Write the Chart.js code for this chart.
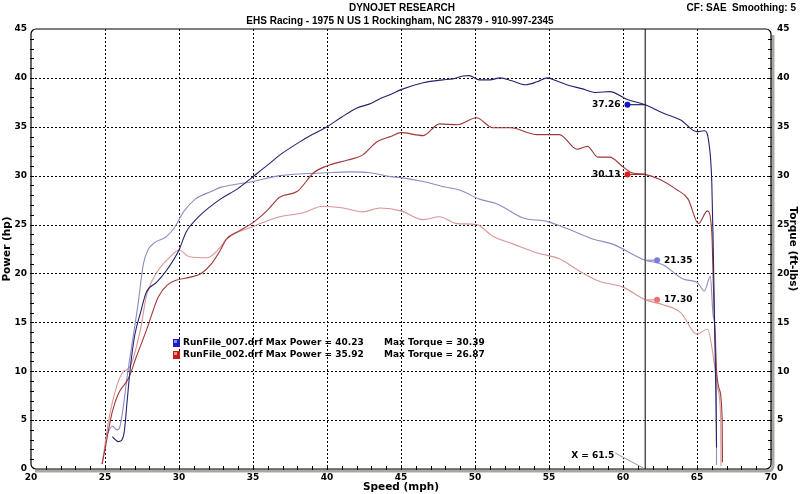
<!DOCTYPE html>
<html>
<head>
<meta charset="utf-8">
<script src="https://cdn.jsdelivr.net/npm/chart.js@4.4.0/dist/chart.umd.min.js"></script>
<style>
html, body { margin: 0; padding: 0; background: #fff; }
canvas { display: block; }
</style>
</head>
<body>
<canvas id="dyno" width="800" height="494"></canvas>
<script>
// RunFile_007 (blue) power, hp
const run007PowerSpeed = [25.5, 25.7, 25.9, 26.1, 26.3, 26.5, 26.7, 27.0, 27.4, 27.8, 28.5, 29.2, 30.0, 30.5, 31.2, 32.0, 32.8, 34.0, 35.0, 36.0, 36.8, 38.0, 39.0, 40.0, 41.0, 42.0, 43.0, 43.6, 44.3, 45.0, 46.5, 47.8, 48.5, 49.2, 49.6, 50.3, 51.0, 51.7, 52.5, 53.4, 54.2, 54.9, 55.5, 56.2, 57.2, 58.2, 59.1, 60.3, 61.5, 62.7, 63.9, 65.0, 65.5, 65.8, 66.0, 66.1, 66.2, 66.28, 66.32];
const run007Power = [3.3, 3.0, 2.8, 2.9, 3.8, 7.0, 10.2, 13.6, 16.0, 18.1, 19.1, 20.4, 22.4, 24.3, 25.6, 26.7, 27.6, 28.7, 29.9, 31.1, 32.1, 33.3, 34.2, 35.0, 36.0, 36.9, 37.4, 37.9, 38.3, 38.8, 39.5, 39.8, 39.9, 40.2, 40.23, 39.8, 39.8, 40.0, 39.7, 39.3, 39.6, 40.0, 39.7, 39.3, 38.9, 38.5, 38.6, 37.8, 37.26, 36.4, 35.7, 34.5, 34.6, 33.4, 29.3, 22.4, 14.0, 7.1, 2.2];

// RunFile_002 (red) power, hp
const run002PowerSpeed = [24.8, 25.0, 25.3, 25.5, 25.9, 26.6, 27.1, 27.8, 28.6, 29.2, 29.8, 30.7, 31.5, 32.2, 32.8, 33.2, 34.0, 35.0, 36.0, 36.8, 38.0, 39.1, 40.0, 41.4, 42.4, 43.4, 44.3, 45.0, 46.5, 47.6, 48.8, 50.1, 51.2, 52.4, 54.2, 55.7, 56.9, 57.6, 58.3, 59.1, 60.0, 60.6, 61.5, 62.5, 63.6, 64.4, 65.1, 65.7, 66.0, 66.1, 66.3, 66.5, 66.7, 66.72];
const run002Power = [0.5, 2.0, 4.5, 5.9, 7.7, 9.3, 11.4, 14.2, 17.6, 18.8, 19.3, 19.6, 20.0, 21.0, 22.4, 23.5, 24.3, 25.2, 26.5, 27.8, 28.4, 30.3, 31.0, 31.6, 32.1, 33.5, 34.0, 34.4, 34.1, 35.3, 35.2, 35.92, 34.9, 34.9, 34.2, 34.2, 32.7, 33.0, 31.9, 31.9, 30.9, 30.3, 30.13, 29.6, 28.6, 27.6, 25.1, 26.4, 24.2, 19.1, 10.5, 8.2, 5.1, 0.7];

// RunFile_007 (light blue) torque, ft-lbs
const run007TorqueSpeed = [25.1, 25.5, 25.8, 26.0, 26.2, 26.5, 26.8, 27.2, 27.6, 27.9, 28.4, 29.1, 29.7, 30.3, 31.1, 32.2, 32.8, 35.0, 36.8, 40.0, 41.5, 42.9, 44.3, 45.0, 46.5, 47.8, 49.0, 50.3, 51.5, 53.2, 54.9, 56.2, 58.0, 59.3, 61.5, 62.7, 64.1, 65.0, 65.5, 65.9, 66.1, 66.3, 66.32];
const run007Torque = [3.4, 4.4, 4.0, 4.3, 6.0, 9.5, 12.5, 16.5, 21.0, 22.4, 23.2, 23.7, 24.7, 26.3, 27.6, 28.4, 28.8, 29.4, 30.0, 30.3, 30.39, 30.3, 29.9, 29.8, 29.4, 28.9, 28.5, 27.6, 27.1, 25.7, 25.3, 24.6, 23.5, 23.0, 21.35, 20.9, 19.4, 19.1, 18.2, 19.7, 15.6, 10.5, 0.4];

// RunFile_002 (light red) torque, ft-lbs
const run002TorqueSpeed = [24.8, 25.0, 25.3, 25.8, 26.2, 26.7, 27.4, 27.8, 28.5, 29.4, 30.0, 30.7, 31.9, 32.8, 33.2, 35.0, 36.8, 38.4, 39.7, 41.1, 42.4, 43.6, 45.0, 46.5, 47.6, 48.8, 50.1, 51.2, 52.6, 54.2, 55.7, 57.1, 58.4, 60.0, 61.5, 62.7, 63.9, 65.0, 65.7, 66.2, 66.4, 66.6, 66.62];
const run002Torque = [0.5, 2.5, 5.4, 8.5, 9.9, 10.5, 14.3, 17.7, 20.1, 21.7, 22.4, 21.7, 21.6, 22.7, 23.5, 24.8, 25.8, 26.2, 26.87, 26.7, 26.3, 26.7, 26.4, 25.5, 25.8, 25.1, 25.0, 23.8, 23.0, 22.1, 21.5, 20.2, 19.2, 18.6, 17.30, 16.8, 16.0, 13.8, 14.3, 10.5, 8.2, 5.1, 0.3];

const runNames = ['RunFile_007.drf', 'RunFile_002.drf'];
const maxPower = [40.23, 35.92];
const maxTorque = [30.39, 26.87];
const cursorSpeed = 61.5;
const cursorPower = [37.26, 30.13];
const cursorTorque = [21.35, 17.30];
const powerDotSpeed = 60.3;
const torqueDotSpeed = 62.3;

const speedTicks = [20, 25, 30, 35, 40, 45, 50, 55, 60, 65, 70];
const valueTicks = [0, 5, 10, 15, 20, 25, 30, 35, 40, 45];

const colPower = ['#24246e', '#a03838'];
const colTorque = ['#8c8cc4', '#d89696'];
const colDotPower = ['#1414c8', '#e01c1c'];
const colDotTorque = ['#7c7ce0', '#f07070'];

const pts = (xs, ys) => xs.map((x, i) => ({ x, y: ys[i] }));

const curve = (data, color, axis) => ({
    type: 'line', data, borderColor: color, borderWidth: 1.1,
    pointRadius: 0, cubicInterpolationMode: 'monotone', yAxisID: axis
});

const datasets = [];
// read-out dots and leaders
for (let i = 0; i < 2; i++) {
    datasets.push({ type: 'scatter', data: [{ x: powerDotSpeed, y: cursorPower[i] }], pointRadius: 3, pointBackgroundColor: colDotPower[i], pointBorderWidth: 0, yAxisID: 'y' });
    datasets.push({ type: 'scatter', data: [{ x: torqueDotSpeed, y: cursorTorque[i] }], pointRadius: 3, pointBackgroundColor: colDotTorque[i], pointBorderWidth: 0, yAxisID: 'y2' });
    datasets.push({ type: 'line', data: [{ x: powerDotSpeed, y: cursorPower[i] }, { x: cursorSpeed, y: cursorPower[i] }], borderColor: colPower[i], borderWidth: 1.2, pointRadius: 0, yAxisID: 'y' });
    datasets.push({ type: 'line', data: [{ x: cursorSpeed, y: cursorTorque[i] }, { x: torqueDotSpeed, y: cursorTorque[i] }], borderColor: colTorque[i], borderWidth: 1.2, pointRadius: 0, yAxisID: 'y2' });
}
datasets.push({ type: 'line', data: [{ x: cursorSpeed, y: 0 }, { x: cursorSpeed, y: 45 }], borderColor: '#000', borderWidth: 1, pointRadius: 0, yAxisID: 'y' });
datasets.push(curve(pts(run007PowerSpeed, run007Power), colPower[0], 'y'));
datasets.push(curve(pts(run002PowerSpeed, run002Power), colPower[1], 'y'));
datasets.push(curve(pts(run007TorqueSpeed, run007Torque), colTorque[0], 'y2'));
datasets.push(curve(pts(run002TorqueSpeed, run002Torque), colTorque[1], 'y2'));

const BOLD = '"DejaVu Sans", Verdana, sans-serif';
const HEAD = '"Liberation Sans", Arial, sans-serif';

const dynoDecor = {
    id: 'dynoDecor',
    beforeDraw(chart) {
        const ctx = chart.ctx;
        ctx.save();
        ctx.fillStyle = '#fff';
        ctx.fillRect(0, 0, chart.width, chart.height);
        ctx.fillStyle = '#000';
        ctx.font = 'bold 10px ' + HEAD;
        ctx.textAlign = 'center';
        ctx.textBaseline = 'middle';
        ctx.fillText('DYNOJET RESEARCH', 402, 8);
        ctx.fillText('EHS Racing - 1975 N US 1 Rockingham, NC 28379 - 910-997-2345', 400, 21);
        ctx.textAlign = 'right';
        ctx.fillText('CF: SAE  Smoothing: 5', 796, 8);
        ctx.restore();
    },
    beforeDatasetsDraw(chart) {
        // dotted grid
        const { ctx, chartArea: a, scales } = chart;
        ctx.save();
        ctx.strokeStyle = '#000';
        ctx.lineWidth = 1;
        ctx.setLineDash([2, 2]);
        ctx.beginPath();
        speedTicks.slice(1, -1).forEach(v => {
            const px = Math.round(scales.x.getPixelForValue(v)) + 0.5;
            ctx.moveTo(px, a.top);
            ctx.lineTo(px, a.bottom);
        });
        valueTicks.slice(1, -1).forEach(v => {
            const py = Math.round(scales.y.getPixelForValue(v)) + 0.5;
            ctx.moveTo(a.left, py);
            ctx.lineTo(a.right, py);
        });
        ctx.stroke();
        ctx.restore();
    },
    afterDraw(chart) {
        const { ctx, chartArea: a, scales } = chart;
        const xs = scales.x, ys = scales.y, ys2 = scales.y2;
        ctx.save();
        // shadow
        ctx.strokeStyle = '#a8a8a0';
        ctx.lineWidth = 3;
        ctx.beginPath();
        ctx.moveTo(a.left + 4, a.bottom + 2);
        ctx.lineTo(a.right - 3, a.bottom + 2);
        ctx.quadraticCurveTo(a.right + 2, a.bottom + 2, a.right + 2, a.bottom - 4);
        ctx.lineTo(a.right + 2, a.top + 6);
        ctx.stroke();
        // frame
        ctx.strokeStyle = '#000';
        ctx.lineWidth = 1.2;
        ctx.beginPath();
        ctx.roundRect(a.left, a.top, a.right - a.left, a.bottom - a.top, 5);
        ctx.stroke();
        // minor ticks
        ctx.lineWidth = 1;
        ctx.beginPath();
        for (let v = 21; v < 70; v++) {
            const px = Math.round(xs.getPixelForValue(v)) + 0.5;
            ctx.moveTo(px, a.bottom - 3);
            ctx.lineTo(px, a.bottom + 1);
        }
        for (let v = 1; v < 45; v++) {
            const py = Math.round(ys.getPixelForValue(v)) + 0.5;
            ctx.moveTo(a.left - 1, py);
            ctx.lineTo(a.left + 3, py);
            ctx.moveTo(a.right - 3, py);
            ctx.lineTo(a.right + 1, py);
        }
        ctx.stroke();

        // read-out labels
        ctx.font = 'bold 9px ' + BOLD;
        ctx.textBaseline = 'middle';
        ctx.fillStyle = '#000';
        const pdx = xs.getPixelForValue(powerDotSpeed);
        const tdx = xs.getPixelForValue(torqueDotSpeed);
        for (let i = 0; i < 2; i++) {
            ctx.textAlign = 'right';
            ctx.fillText(cursorPower[i].toFixed(2), pdx - 7, ys.getPixelForValue(cursorPower[i]));
            ctx.textAlign = 'left';
            ctx.fillText(cursorTorque[i].toFixed(2), tdx + 7, ys2.getPixelForValue(cursorTorque[i]));
        }

        // cursor label
        const cx = xs.getPixelForValue(cursorSpeed);
        ctx.textAlign = 'right';
        ctx.fillText('X = ' + cursorSpeed.toFixed(1), cx - 31, a.bottom - 13);
        ctx.strokeStyle = '#999';
        ctx.beginPath();
        ctx.moveTo(cx - 30, a.bottom - 16);
        ctx.lineTo(cx - 2, a.bottom - 1);
        ctx.stroke();

        // legend
        const lx = 173, ly = [343, 355];
        const sq = [['#1c1cc0', '#8c8cf0'], ['#c81c1c', '#f08c8c']];
        for (let i = 0; i < 2; i++) {
            ctx.fillStyle = sq[i][0];
            ctx.fillRect(lx, ly[i] - 4, 7, 8);
            ctx.fillStyle = sq[i][1];
            ctx.fillRect(lx + 1, ly[i] - 3, 3, 3);
            ctx.fillStyle = '#000';
            ctx.textAlign = 'left';
            ctx.fillText(runNames[i] + ' Max Power = ' + maxPower[i].toFixed(2), lx + 10, ly[i]);
            ctx.fillText('Max Torque = ' + maxTorque[i].toFixed(2), 384, ly[i]);
        }
        ctx.restore();
    }
};

const tickFont = { family: BOLD, size: 9, weight: 'bold' };
const titleFont = { family: BOLD, size: 10.5, weight: 'bold' };
const hiddenGrid = { color: 'rgba(0,0,0,0)', drawTicks: false };

new Chart(document.getElementById('dyno'), {
    data: { datasets },
    options: {
        responsive: false,
        animation: false,
        layout: { padding: { top: 29, left: 0, right: 0, bottom: 0 } },
        plugins: { legend: { display: false }, tooltip: { enabled: false } },
        scales: {
            x: {
                type: 'linear', min: 20, max: 70,
                afterFit: s => { s.height = 25; },
                afterBuildTicks: s => { s.ticks = speedTicks.map(v => ({ value: v })); },
                ticks: { font: tickFont, color: '#000', padding: 3, maxRotation: 0 },
                grid: hiddenGrid,
                border: { display: false },
                title: { display: true, text: 'Speed (mph)', font: titleFont, color: '#000', padding: 0 }
            },
            y: {
                type: 'linear', position: 'left', min: 0, max: 45,
                afterFit: s => { s.width = 31; },
                ticks: { stepSize: 5, font: tickFont, color: '#000', padding: 4 },
                grid: hiddenGrid,
                border: { display: false },
                title: { display: true, text: 'Power (hp)', font: titleFont, color: '#000', padding: 1 }
            },
            y2: {
                type: 'linear', position: 'right', min: 0, max: 45,
                afterFit: s => { s.width = 29; },
                ticks: { stepSize: 5, font: tickFont, color: '#000', padding: 6 },
                grid: { display: false, drawTicks: false },
                border: { display: false },
                title: { display: true, text: 'Torque (ft-lbs)', font: titleFont, color: '#000', padding: 1 }
            }
        }
    },
    plugins: [dynoDecor]
});
</script>
</body>
</html>
